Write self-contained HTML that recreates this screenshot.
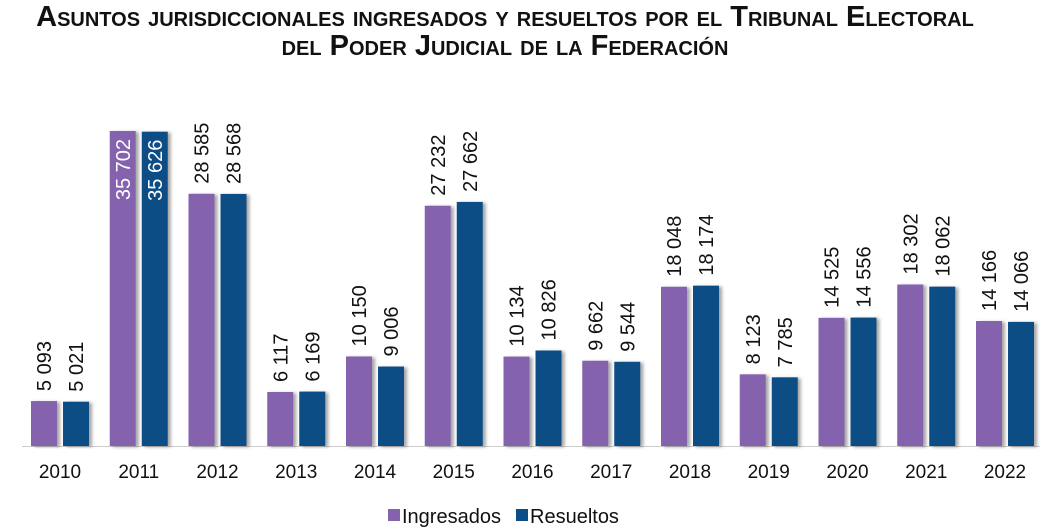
<!DOCTYPE html>
<html><head><meta charset="utf-8"><style>
body{margin:0;background:#fff;width:1053px;height:529px;overflow:hidden;font-family:"Liberation Sans",sans-serif}
.t{position:absolute;left:0;width:1010px;text-align:center;font-weight:bold;font-variant:small-caps;font-size:29px;line-height:30px;color:#111;white-space:nowrap}
</style></head><body>
<div class="t" style="top:2px">Asuntos jurisdiccionales ingresados y resueltos por el Tribunal Electoral</div>
<div class="t" style="top:31px">del Poder Judicial de la Federación</div>
<svg id="c" width="1053" height="529" style="position:absolute;left:0;top:0">
<defs><filter id="sh" x="-20%" y="-5%" width="150%" height="110%"><feDropShadow dx="3" dy="1" stdDeviation="1.5" flood-color="#000" flood-opacity="0.35"/></filter></defs>
</svg>
<script>
const years=["2010","2011","2012","2013","2014","2015","2016","2017","2018","2019","2020","2021","2022"];
const ingresados=[5093,35702,28585,6117,10150,27232,10134,9662,18048,8123,14525,18302,14166];
const resueltos=[5021,35626,28568,6169,9006,27662,10826,9544,18174,7785,14556,18062,14066];
const seriesNames=["Ingresados","Resueltos"];
const colors=["#8462ae","#0b4d86"];
const svg=document.getElementById('c');const NS="http://www.w3.org/2000/svg";
const base=446,scale=315/35702,x0=60,step=78.75,bw=26,gap=6;
const y=v=>base-v*scale;
function mk(t,a){const e=document.createElementNS(NS,t);for(const k in a)e.setAttribute(k,a[k]);svg.appendChild(e);return e;}
const ax=mk('line',{x1:22,x2:1040,y1:base+0.5,y2:base+0.5,stroke:'#ccc','stroke-width':1});


const fmt=v=>String(v).replace(/\B(?=(\d{3})+(?!\d))/g,' ');
years.forEach((yr,i)=>{
  const cx=x0+i*step;
  [ingresados[i],resueltos[i]].forEach((v,s)=>{
    const bx=s===0?cx-gap/2-bw:cx+gap/2;
    const r=mk('rect',{x:bx,y:y(v),width:bw,height:v*scale,fill:colors[s],filter:'url(#sh)'});
    
    
    const inside=y(v)<150;
    const ly=inside?y(v)+8:y(v)-10;
    const tx=bx+bw/2+7;
    const t=mk('text',{x:0,y:0,transform:`translate(${tx},${ly}) rotate(-90)`,'font-size':20,fill:inside?'#fff':'#111','text-anchor':inside?'end':'start'});
    t.textContent=fmt(v);
    
    
  });
  const l=mk('text',{x:cx,y:478,'font-size':19,fill:'#111','text-anchor':'middle'});
  l.textContent=yr;
  
  
});
const lx=[388,516];
seriesNames.forEach((n,s)=>{
  const r=mk('rect',{x:lx[s],y:509,width:12,height:12,fill:colors[s]});
  
  
  const t=mk('text',{x:lx[s]+14,y:523,'font-size':20,fill:'#111'});
  t.textContent=n;
  
  
});
</script>
</body></html>
